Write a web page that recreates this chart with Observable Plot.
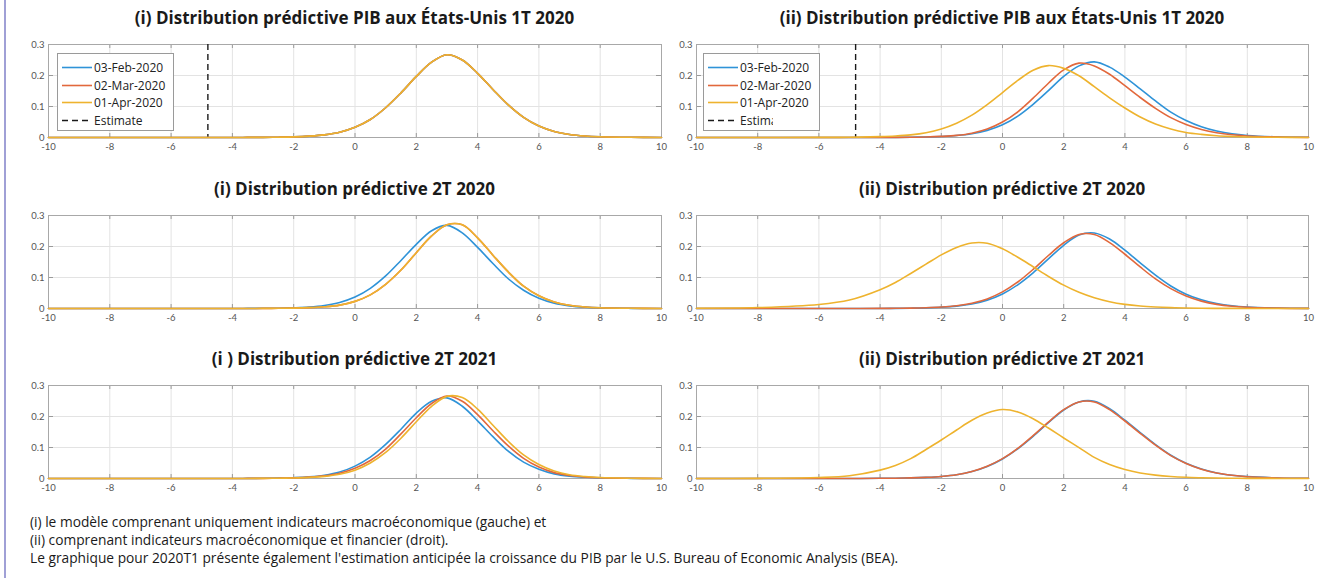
<!DOCTYPE html>
<html><head><meta charset="utf-8">
<script src="https://cdn.jsdelivr.net/npm/d3@7"></script>
<script src="https://cdn.jsdelivr.net/npm/@observablehq/plot@0.6"></script>
<style>
body{margin:0;background:#fff;width:1321px;height:578px;position:relative;overflow:hidden;font-family:"Open Sans",Lato,sans-serif;}
.panel{position:absolute;}
.title{position:absolute;font-weight:700;font-size:17px;line-height:22px;color:#1a1a1a;white-space:nowrap;transform:translateX(-50%);}
.legend{position:absolute;background:#fff;border:1px solid #9a9a9a;font-size:12px;color:#222;overflow:hidden;}
.legend .row{position:absolute;left:0;height:17px;line-height:17px;white-space:nowrap;}
.legend svg{position:absolute;top:0;}
.legend span{position:absolute;top:0;}
.caption{position:absolute;left:30px;top:513px;font-size:13.75px;font-weight:500;line-height:18px;color:#1a1a1a;white-space:nowrap;}
.edge{position:absolute;left:4px;top:0;width:2px;height:578px;background:#a0a0d6;}
</style></head>
<body>
<div class="edge"></div>
<script>
// ---------------- data ----------------
const dates = ["03-Feb-2020", "02-Mar-2020", "01-Apr-2020"];
const colors = ["#2f93d8", "#e2683c", "#eeb32e"];
const xTicks = [-10, -8, -6, -4, -2, 0, 2, 4, 6, 8, 10];
const yTicks = [0, 0.1, 0.2, 0.3];
const beaEstimate = [-4.8];
const gdp = [-10,-8,-6,-5,-4,-3.5,-3,-2.5,-2,-1.5,-1,-0.5,0,0.5,1,1.5,2,2.5,3,3.5,4,4.5,5,5.5,6,6.5,7,7.5,8,9,10];

// (i) macro model, 1T 2020
const i_q1_feb = [0,0,0,0,0.0001,0.0003,0.0005,0.001,0.002,0.0043,0.0085,0.017,0.033,0.058,0.096,0.144,0.197,0.243,0.267,0.25,0.207,0.155,0.105,0.065,0.037,0.0195,0.0099,0.0048,0.0024,0.0006,0];
const i_q1_mar = [0,0,0,0,0.0001,0.0003,0.0005,0.001,0.002,0.0043,0.0085,0.017,0.033,0.058,0.096,0.144,0.197,0.243,0.267,0.25,0.207,0.155,0.105,0.065,0.037,0.0195,0.0099,0.0048,0.0024,0.0006,0];
const i_q1_apr = [0,0,0,0,0.0001,0.0003,0.0005,0.001,0.002,0.0043,0.0085,0.017,0.033,0.058,0.096,0.144,0.197,0.243,0.267,0.25,0.207,0.155,0.105,0.065,0.037,0.0195,0.0099,0.0048,0.0024,0.0006,0];
// (i) 2T 2020
const i_q2_feb = [0,0,0,0,0.0001,0.0003,0.0006,0.001,0.0024,0.0048,0.0099,0.0196,0.037,0.065,0.105,0.155,0.207,0.251,0.268,0.244,0.197,0.145,0.096,0.059,0.033,0.017,0.0086,0.0043,0.002,0.0005,0];
const i_q2_mar = [0,0,0,0,0.0001,0.0001,0.0003,0.0006,0.0013,0.0027,0.0055,0.011,0.023,0.044,0.078,0.124,0.18,0.234,0.27,0.27,0.228,0.172,0.118,0.072,0.041,0.021,0.0105,0.005,0.0025,0.0006,0];
const i_q2_apr = [0,0,0,0,0.0001,0.0001,0.0003,0.0006,0.0013,0.0027,0.0055,0.011,0.023,0.044,0.078,0.124,0.18,0.234,0.27,0.27,0.228,0.172,0.118,0.072,0.041,0.021,0.0105,0.005,0.0025,0.0006,0];
// (i) 2T 2021
const i_q6_feb = [0,0,0,0,0.0001,0.0003,0.0007,0.0013,0.0026,0.0052,0.0107,0.021,0.04,0.069,0.11,0.159,0.211,0.249,0.26,0.233,0.186,0.135,0.088,0.053,0.03,0.015,0.0075,0.0038,0.0018,0.0005,0];
const i_q6_mar = [0,0,0,0,0.0001,0.0003,0.0005,0.001,0.002,0.0043,0.0085,0.017,0.033,0.058,0.095,0.144,0.196,0.242,0.266,0.249,0.206,0.154,0.105,0.065,0.037,0.019,0.0099,0.0048,0.0024,0.0006,0];
const i_q6_apr = [0,0,0,0,0.0001,0.0002,0.0004,0.0008,0.0017,0.0035,0.007,0.014,0.027,0.05,0.084,0.13,0.183,0.233,0.265,0.261,0.224,0.172,0.12,0.076,0.045,0.024,0.012,0.0062,0.003,0.0008,0];

// (ii) macro + financial model, 1T 2020
const ii_q1_feb = [0,0,0,0,0.0002,0.0004,0.0009,0.0016,0.0032,0.0062,0.012,0.023,0.041,0.069,0.107,0.151,0.197,0.231,0.244,0.227,0.195,0.157,0.118,0.082,0.055,0.035,0.021,0.0117,0.0066,0.002,0.0007];
const ii_q1_mar = [0,0,0,0.0001,0.0002,0.0005,0.0009,0.0016,0.0035,0.0069,0.014,0.0275,0.05,0.083,0.127,0.175,0.218,0.24,0.231,0.204,0.167,0.129,0.094,0.064,0.042,0.026,0.0152,0.0087,0.005,0.0016,0.0005];
const ii_q1_apr = [0,0,0.0003,0.0007,0.0027,0.0047,0.0084,0.0154,0.0275,0.046,0.072,0.106,0.145,0.184,0.217,0.232,0.223,0.199,0.164,0.128,0.095,0.066,0.0435,0.0275,0.0164,0.01,0.0056,0.0034,0.0018,0.0006,0.0002];
// (ii) 2T 2020
const ii_q2_feb = [0,0,0,0.0001,0.0002,0.0005,0.001,0.0019,0.0039,0.0076,0.0146,0.027,0.047,0.0765,0.115,0.16,0.204,0.237,0.2436,0.224,0.188,0.147,0.1075,0.0726,0.046,0.028,0.016,0.0087,0.0048,0.0015,0.0004];
const ii_q2_mar = [0,0,0,0.0001,0.0003,0.0007,0.0012,0.0024,0.0047,0.009,0.0171,0.031,0.0535,0.0855,0.126,0.171,0.212,0.239,0.2387,0.2126,0.175,0.134,0.0955,0.064,0.0403,0.0238,0.0134,0.0074,0.0041,0.0012,0.0003];
const ii_q2_apr = [0.001,0.003,0.013,0.0274,0.0606,0.084,0.113,0.143,0.173,0.197,0.2115,0.2106,0.1926,0.1652,0.1346,0.1036,0.0753,0.0522,0.0347,0.022,0.0134,0.008,0.0048,0.0028,0.0016,0.0009,0.0005,0.0003,0.0002,0.0001,0];
// (ii) 2T 2021
const ii_q6_feb = [0,0,0,0.0001,0.0006,0.001,0.0019,0.0037,0.0067,0.0122,0.0224,0.039,0.063,0.096,0.136,0.18,0.221,0.247,0.249,0.225,0.188,0.148,0.109,0.075,0.049,0.0305,0.018,0.0105,0.0059,0.0018,0.0006];
const ii_q6_mar = [0,0,0,0.0001,0.0006,0.001,0.0019,0.0037,0.0067,0.0123,0.0227,0.0394,0.064,0.0973,0.1385,0.182,0.222,0.247,0.2467,0.222,0.1855,0.1458,0.1074,0.0738,0.0485,0.0301,0.0177,0.0104,0.0058,0.0018,0.0006];
const ii_q6_apr = [0,0.0005,0.0032,0.009,0.027,0.042,0.064,0.0937,0.1243,0.1565,0.1877,0.211,0.2224,0.2147,0.193,0.1628,0.1307,0.0997,0.068,0.045,0.029,0.018,0.011,0.0065,0.0038,0.0024,0.0014,0.0009,0.0005,0.0002,0];

const titles = [
  "(i) Distribution prédictive PIB aux États-Unis 1T 2020",
  "(ii) Distribution prédictive PIB aux États-Unis 1T 2020",
  "(i) Distribution prédictive 2T 2020",
  "(ii) Distribution prédictive 2T 2020",
  "(i ) Distribution prédictive 2T 2021",
  "(ii) Distribution prédictive 2T 2021"
];
const legendLabels = ["03-Feb-2020", "02-Mar-2020", "01-Apr-2020", "Estimate"];
const captionLines = [
  "(i) le modèle comprenant uniquement indicateurs macroéconomique (gauche) et",
  "(ii) comprenant indicateurs macroéconomique et financier (droit).",
  "Le graphique pour 2020T1 présente également l'estimation anticipée la croissance du PIB par le U.S. Bureau of Economic Analysis (BEA)."
];

// ---------------- layout ----------------
const panels = [
  {series:[i_q1_feb,i_q1_mar,i_q1_apr], left:0, top:30, est:true, title:titles[0]},
  {series:[ii_q1_feb,ii_q1_mar,ii_q1_apr], left:648, top:30, est:true, title:titles[1]},
  {series:[i_q2_feb,i_q2_mar,i_q2_apr], left:0, top:201, est:false, title:titles[2]},
  {series:[ii_q2_feb,ii_q2_mar,ii_q2_apr], left:648, top:201, est:false, title:titles[3]},
  {series:[i_q6_feb,i_q6_mar,i_q6_apr], left:0, top:371, est:false, title:titles[4]},
  {series:[ii_q6_feb,ii_q6_mar,ii_q6_apr], left:648, top:371, est:false, title:titles[5]}
];

const H = 130, mT = 14, mB = 23, frameH = H - mT - mB;

panels.forEach((p, k) => {
  const isLeft = p.left === 0;
  const W = isLeft ? 680 : 673;
  const mL = 48, mR = isLeft ? 19 : 13;
  const rows = [];
  p.series.forEach((vals, si) => vals.forEach((v, j) => rows.push({x: gdp[j], y: v, date: dates[si]})));
  const marks = [
    Plot.gridX(xTicks, {stroke: "#e3e3e3", strokeOpacity: 1}),
    Plot.gridY(yTicks.slice(1, 3), {stroke: "#e3e3e3", strokeOpacity: 1}),
    Plot.tickX(xTicks.slice(1, -1), {x: d => d, stroke: "#9a9a9a", insetTop: frameH - 4}),
    Plot.tickX(xTicks.slice(1, -1), {x: d => d, stroke: "#9a9a9a", insetBottom: frameH - 4}),
    Plot.tickY(yTicks.slice(1, 3), {y: d => d, stroke: "#9a9a9a", insetRight: W - mL - mR - 5}),
    Plot.tickY(yTicks.slice(1, 3), {y: d => d, stroke: "#9a9a9a", insetLeft: W - mL - mR - 5}),
    Plot.frame({stroke: "#a8a8a8"}),
  ];
  if (p.est) marks.push(Plot.ruleX(beaEstimate, {x: d => d, stroke: "#1a1a1a", strokeWidth: 1.4, strokeDasharray: "6,4"}));
  marks.push(Plot.line(rows, {x: "x", y: "y", z: "date", stroke: "date", strokeWidth: 1.6, curve: "catmull-rom"}));
  const svg = Plot.plot({
    width: W, height: H,
    marginLeft: mL, marginRight: mR, marginTop: mT, marginBottom: mB,
    style: {fontFamily: "Lato, sans-serif", fontSize: "9.5px", color: "#555", background: "transparent", overflow: "visible"},
    x: {domain: [-10, 10], ticks: xTicks, tickFormat: d => String(d), tickSize: 0, tickPadding: 6, label: null},
    y: {domain: [0, 0.3], ticks: yTicks, tickFormat: d => String(d), tickSize: 0, tickPadding: 4, label: null},
    color: {domain: dates, range: colors},
    marks
  });
  svg.classList.add("panel");
  svg.style.left = p.left + "px";
  svg.style.top = p.top + "px";
  document.body.appendChild(svg);

  const t = document.createElement("div");
  t.className = "title";
  t.textContent = p.title;
  t.style.left = (p.left + mL + (W - mL - mR) / 2) + "px";
  t.style.top = (p.top - 23) + "px";
  document.body.appendChild(t);

  if (p.est) {
    const lg = document.createElement("div");
    lg.className = "legend";
    const lx = p.left + (isLeft ? 57 : 55);
    lg.style.left = lx + "px";
    lg.style.top = "53px";
    lg.style.width = "115px";
    lg.style.height = "76px";
    legendLabels.forEach((lab, i) => {
      const r = document.createElement("div");
      r.className = "row";
      r.style.top = (5 + i * 17.5) + "px";
      const col = i < 3 ? colors[i] : "#1a1a1a";
      const dash = i < 3 ? "" : 'stroke-dasharray="6,4"';
      r.innerHTML = `<svg width="34" height="17" style="left:2px"><line x1="2" x2="32" y1="8.5" y2="8.5" stroke="${col}" stroke-width="1.6" ${dash}/></svg><span style="left:36px">${lab}</span>`;
      lg.appendChild(r);
    });
    document.body.appendChild(lg);
    if (!isLeft) {
      const cover = document.createElement("div");
      cover.style.cssText = "position:absolute;left:773px;top:112px;width:44px;height:16px;background:#fff;";
      document.body.appendChild(cover);
    }
  }
});

const cap = document.createElement("div");
cap.className = "caption";
cap.innerHTML = captionLines.map(s => `<div>${s}</div>`).join("");
document.body.appendChild(cap);
</script>
</body></html>
